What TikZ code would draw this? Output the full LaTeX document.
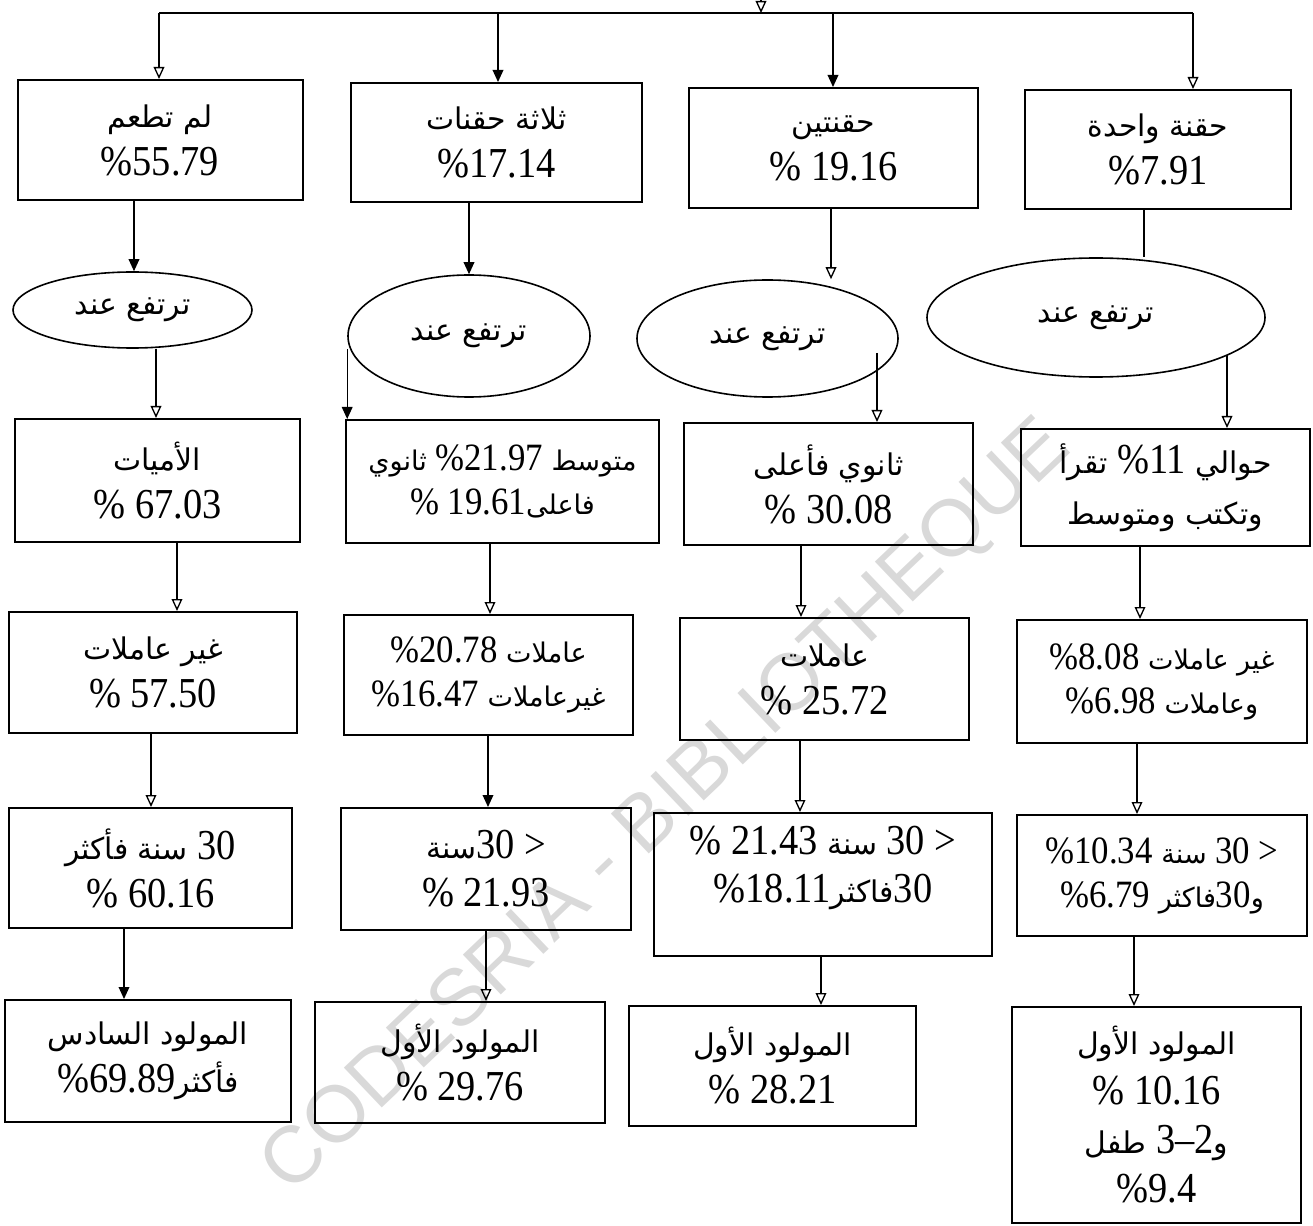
\documentclass[tikz,border=0pt]{standalone}
\usepackage{fontspec}
\setmainfont[FakeStretch=0.9]{Liberation Serif}
\newfontfamily\arabicfont[Script=Arabic,Scale=0.7]{DejaVu Sans}
\newfontfamily\markfont{Liberation Sans}
\TeXXeTstate=1
\usetikzlibrary{arrows.meta,shapes.geometric}

% Arabic run, set right to left
\newcommand\artxt[1]{{\arabicfont\beginR #1\endR}}
% text sizes for the boxes
\newcommand\fntL{\fontsize{32}{36}\selectfont}
\newcommand\fntS{\fontsize{29}{33}\selectfont}

\tikzset{
  box/.style={draw, line width=1.5pt, rectangle, inner sep=0pt, align=center, font=\fntL},
  oval/.style={draw, ellipse, line width=1.2pt, inner sep=0pt, align=center, font=\fntL},
  sz/.style 2 args={minimum width=#1*0.75pt, minimum height=#2*0.75pt},
  link/.style={line width=1pt},
  tipA/.style={link, -{Triangle[length=9pt,width=8pt]}},
  tipO/.style={link, -{Triangle[open,length=9pt,width=8pt]}},
}

\begin{document}
\begin{tikzpicture}[x=0.75pt,y=-0.75pt]
\useasboundingbox (0,0) rectangle (1313,1226);

% watermark
\node[rotate=43.6, font=\markfont\fontsize{60}{60}\selectfont, text=black!15] (wm) at (668,808) {CODESRIA - BIBLIOTHEQUE};

% first row: number of doses
\node[box, sz={285}{120}] (B1) at (160,140) {\artxt{لم تطعم}\\\%55.79};
\node[box, sz={291}{119}] (B2) at (496.5,142.5) {\artxt{ثلاثة حقنات}\\\%17.14};
\node[box, sz={289}{120}] (B3) at (833.5,148) {\artxt{حقنتين}\\\% 19.16};
\node[box, sz={266}{119}] (B4) at (1158,149.5) {\artxt{حقنة واحدة}\\\%7.91};

% "rises among"
\node[oval, sz={239}{76}] (E1) at (132.5,310) {\artxt{ترتفع عند}};
\node[oval, sz={242}{122}] (E2) at (469,336) {\artxt{ترتفع عند}};
\node[oval, sz={261}{117}] (E3) at (767.5,338.5) {\artxt{ترتفع عند}};
\node[oval, sz={338}{119}] (E4) at (1096,317.5) {\artxt{ترتفع عند}};

% education
\node[box, sz={285}{123}] (A1) at (157.5,480.5) {\artxt{الأميات}\\\% 67.03};
\node[box, sz={313}{123}, font=\fntS] (A2) at (502.5,481.5) {\artxt{ثانوي} \%21.97 \artxt{متوسط}\\\% 19.61\artxt{فاعلى}};
\node[box, sz={289}{122}] (A3) at (828.5,484) {\artxt{ثانوي فأعلى}\\\% 30.08};
\node[box, sz={289}{117}, font=\fontsize{32}{38}\selectfont] (A4) at (1165.5,487.5) {\artxt{تقرأ} \%11 \artxt{حوالي}\\\artxt{وتكتب ومتوسط}};

% work
\node[box, sz={288}{121}] (C1) at (153,672.5) {\artxt{غير عاملات}\\\% 57.50};
\node[box, sz={289}{120}, font=\fntS] (C2) at (488.5,675) {\%20.78 \artxt{عاملات}\\\%16.47 \artxt{غيرعاملات}};
\node[box, sz={289}{122}] (C3) at (824.5,679) {\artxt{عاملات}\\\% 25.72};
\node[box, sz={290}{123}, font=\fntS] (C4) at (1162,681.5) {\%8.08 \artxt{غير عاملات}\\\%6.98 \artxt{وعاملات}};

% age
\node[box, sz={283}{120}] (D1) at (150.5,868) {\artxt{سنة فأكثر} 30\\\% 60.16};
\node[box, sz={290}{122}] (D2) at (486,869) {\artxt{سنة}30 >\\\% 21.93};
\node[box, sz={338}{143}] (D3) at (823,884.5) {\% 21.43 \artxt{سنة} 30 >\\\%18.11\artxt{فاكثر}30\rule[-30pt]{0pt}{30pt}};
\node[box, sz={290}{121}, font=\fntS] (D4) at (1162,875.5) {\%10.34 \artxt{سنة} 30 >\\\%6.79 \artxt{فاكثر}30\artxt{و}};

% birth order
\node[box, sz={286}{122}] (F1) at (148,1061) {\artxt{المولود السادس}\\\%69.89\artxt{فأكثر}};
\node[box, sz={290}{121}] (F2) at (460,1062.5) {\artxt{المولود الأول}\\\% 29.76};
\node[box, sz={287}{120}] (F3) at (772.5,1066) {\artxt{المولود الأول}\\\% 28.21};
\node[box, sz={289}{216}, font=\fontsize{32}{37}\selectfont] (F4) at (1156.5,1115) {\artxt{المولود الأول}\\\% 10.16\\\artxt{طفل} 3--2\artxt{و}\\\%9.4};

% distribution bus
\coordinate (src) at (761,-4);
\coordinate (j0) at (761,13);
\coordinate (j1) at (159,13);
\coordinate (j2) at (498,13);
\coordinate (j3) at (833,13);
\coordinate (j4) at (1193,13);
\draw[tipO] (src) -- (j0);
\draw[link] (j1) -- (j4);
\draw[tipO] (j1) -- (j1 |- B1.north);
\draw[tipA] (j2) -- (j2 |- B2.north);
\draw[tipA] (j3) -- (j3 |- B3.north);
\draw[tipO] (j4) -- (j4 |- B4.north);

% doses to ovals
\coordinate (k1) at (134,0);
\coordinate (k2) at (156,0);
\coordinate (k3) at (831,0);
\coordinate (k4) at (1144,0);
\coordinate (e3o) at (877,353);
\coordinate (e4o) at (1227,355);
\draw[tipA] (B1.south -| k1) -- (E1.north -| k1);
\draw[tipA] (B2.south -| E2.north) -- (E2.north);
\draw[tipO] (B3.south -| k3) -- (E3.north -| k3);
\draw[link] (B4.south -| k4) -- (E4.north -| k4);

% ovals to education
\draw[tipO] (E1.south -| k2) -- (A1.north -| k2);
\draw[tipA] ([yshift=-10pt]E2.west) -- (A2.north -| E2.west);
\draw[tipO] (e3o) -- (A3.north -| e3o);
\draw[tipO] (e4o) -- (A4.north -| e4o);

% education to work
\coordinate (m1) at (177,0);
\coordinate (m2) at (490,0);
\coordinate (m3) at (801,0);
\coordinate (m4) at (1140,0);
\draw[tipO] (A1.south -| m1) -- (C1.north -| m1);
\draw[tipO] (A2.south -| m2) -- (C2.north -| m2);
\draw[tipO] (A3.south -| m3) -- (C3.north -| m3);
\draw[tipO] (A4.south -| m4) -- (C4.north -| m4);

% work to age
\coordinate (n1) at (151,0);
\coordinate (n2) at (488,0);
\coordinate (n3) at (800,0);
\coordinate (n4) at (1137,0);
\draw[tipO] (C1.south -| n1) -- (D1.north -| n1);
\draw[tipA] (C2.south -| n2) -- (D2.north -| n2);
\draw[tipO] (C3.south -| n3) -- (D3.north -| n3);
\draw[tipO] (C4.south -| n4) -- (D4.north -| n4);

% age to birth order
\coordinate (p1) at (124,0);
\coordinate (p2) at (486,0);
\coordinate (p3) at (821,0);
\coordinate (p4) at (1134,0);
\draw[tipA] (D1.south -| p1) -- (F1.north -| p1);
\draw[tipO] (D2.south -| p2) -- (F2.north -| p2);
\draw[tipO] (D3.south -| p3) -- (F3.north -| p3);
\draw[tipO] (D4.south -| p4) -- (F4.north -| p4);
\end{tikzpicture}
\end{document}
